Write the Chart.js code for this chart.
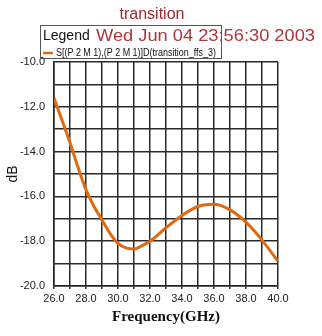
<!DOCTYPE html>
<html>
<head>
<meta charset="utf-8">
<script src="https://cdn.jsdelivr.net/npm/chart.js@4/dist/chart.umd.min.js"></script>
<style>
  html, body { margin: 0; padding: 0; background: #fff; }
  #wrap { width: 322px; height: 336px; position: relative; }
</style>
</head>
<body>
<div id="wrap"><canvas id="c" width="322" height="336"></canvas></div>
<script>
// frequency (GHz) and S-parameter (dB)
var freqs = [26, 26.5, 27, 27.5, 28, 28.5, 29, 29.5, 30, 30.5, 31, 31.5, 32, 33, 34, 35, 36, 37, 38, 39, 40];
var dbVals = [-11.6, -12.6, -13.6, -14.7, -15.7, -16.45, -17.05, -17.65, -18.1, -18.3, -18.35, -18.2, -18.0, -17.4, -16.85, -16.45, -16.35, -16.6, -17.15, -17.95, -18.9];
var seriesName = "S[(P 2 M 1),(P 2 M 1)]D(transition_ffs_3)";
var chartTitle = "transition";
var dateText = "Wed Jun 04 23:56:30 2003";

var points = [];
for (var i = 0; i < freqs.length; i++) points.push({x: freqs[i], y: dbVals[i]});

// header: title, date, legend box
var headerPlugin = {
  id: 'header',
  afterDraw: function(chart) {
    var ctx = chart.ctx;
    ctx.save();
    ctx.textBaseline = 'middle';
    ctx.fillStyle = '#9c2a2e';
    ctx.font = '16px "Liberation Sans", Arial, sans-serif';
    ctx.textAlign = 'center';
    ctx.fillText(chartTitle, 152, 15);
    ctx.textAlign = 'left';
    ctx.fillStyle = '#b0353a';
    ctx.font = '17px "Liberation Sans", Arial, sans-serif';
    var dw = ctx.measureText(dateText).width;
    ctx.save();
    ctx.translate(96, 36);
    ctx.scale(219 / dw, 1);
    ctx.fillText(dateText, 0, 0);
    ctx.restore();
    // box
    ctx.strokeStyle = '#555';
    ctx.lineWidth = 1;
    ctx.strokeRect(40.5, 25.5, 181, 33);
    ctx.fillStyle = '#111';
    ctx.font = '14px "Liberation Sans", Arial, sans-serif';
    ctx.fillText('Legend', 43, 36);
    ctx.strokeStyle = '#e06a10';
    ctx.lineWidth = 2.5;
    ctx.beginPath();
    ctx.moveTo(43, 53);
    ctx.lineTo(53, 53);
    ctx.stroke();
    ctx.fillStyle = '#111';
    ctx.font = '10px "Liberation Sans Narrow", "Liberation Sans", Arial, sans-serif';
    var w = ctx.measureText(seriesName).width;
    ctx.save();
    ctx.translate(56, 53);
    ctx.scale(160 / w, 1);
    ctx.fillText(seriesName, 0, 0);
    ctx.restore();
    ctx.restore();
  }
};

new Chart(document.getElementById('c').getContext('2d'), {
  type: 'line',
  data: {
    datasets: [{
      label: seriesName,
      data: points,
      borderColor: '#e06a10',
      borderWidth: 3,
      pointRadius: 0,
      cubicInterpolationMode: 'monotone',
      fill: false
    }]
  },
  options: {
    responsive: false,
    animation: false,
    layout: { padding: { left: 5, right: 44, top: 62, bottom: 10 } },
    plugins: { legend: { display: false }, tooltip: { enabled: false } },
    scales: {
      x: {
        type: 'linear',
        min: 26, max: 40,
        afterFit: function(s) { s.height = 40; },
        grid: { color: '#2a2a2a', lineWidth: 1.5, drawTicks: true, tickLength: 3 },
        border: { color: '#222', width: 1.5 },
        ticks: {
          stepSize: 1,
          autoSkip: false,
          maxRotation: 0,
          minRotation: 0,
          padding: 3,
          color: '#222',
          font: { size: 11, family: '"Liberation Sans", Arial, sans-serif' },
          callback: function(v) { return v % 2 === 0 ? v.toFixed(1) : ''; }
        },
        title: {
          display: true,
          text: 'Frequency(GHz)',
          color: '#111',
          padding: { top: 1, bottom: 0 },
          font: { size: 15, weight: 'bold', family: '"Liberation Serif", "DejaVu Serif", serif' }
        }
      },
      y: {
        min: -20, max: -10,
        afterFit: function(s) { s.width = 49; },
        grid: { color: '#2a2a2a', lineWidth: 1.5, drawTicks: false },
        border: { color: '#222', width: 1.5 },
        ticks: {
          stepSize: 1,
          autoSkip: false,
          padding: 9,
          color: '#222',
          font: { size: 11, family: '"Liberation Sans", Arial, sans-serif' },
          callback: function(v) { return v % 2 === 0 ? v.toFixed(1) : ''; }
        },
        title: {
          display: true,
          text: 'dB',
          color: '#111',
          padding: { top: 0, bottom: 2 },
          font: { size: 14, family: '"Liberation Sans", Arial, sans-serif' }
        }
      }
    }
  },
  plugins: [headerPlugin]
});
</script>
</body>
</html>
